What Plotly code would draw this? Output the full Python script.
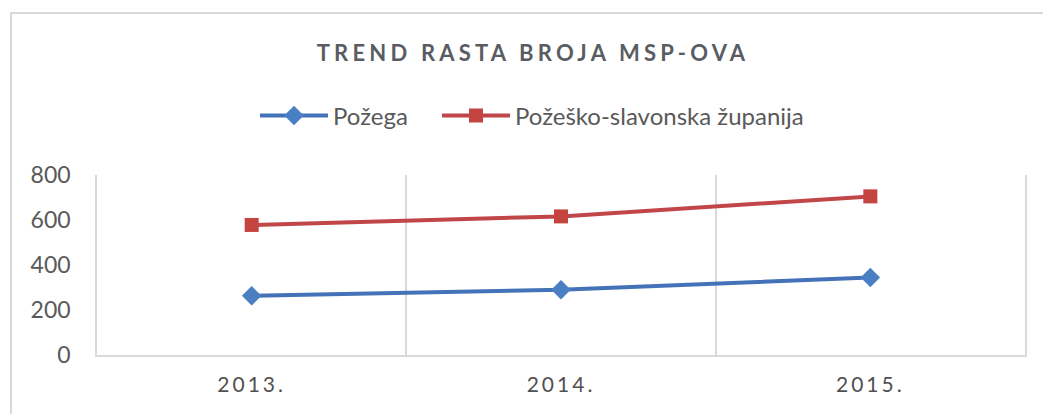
import plotly.graph_objects as go

years = ["2013.", "2014.", "2015."]
pozega = [263, 290, 345]
zupanija = [578, 616, 705]
series_names = ["Požega", "Požeško-slavonska županija"]
title_text = "TREND RASTA BROJA MSP-OVA"

W, H = 1043, 414
ML, MR, MT, MB = 97, 18, 175, 59
PW, PH = W - ML - MR, H - MT - MB

def px_x(px):
    return (px - ML) / PW

def px_y(py):
    return (H - MB - py) / PH

TXT = "#595959"
FONT = "Lato"

fig = go.Figure()
fig.add_trace(go.Scatter(
    x=years, y=pozega, name=series_names[0], mode="lines+markers",
    line=dict(color="#4472B8", width=4),
    marker=dict(symbol="diamond", size=15, color="#4A7FC4"),
    legend="legend",
))
fig.add_trace(go.Scatter(
    x=years, y=zupanija, name=series_names[1], mode="lines+markers",
    line=dict(color="#C0464A", width=4),
    marker=dict(symbol="square", size=14, color="#C4443F"),
    legend="legend2",
))

leg_common = dict(
    orientation="h", xanchor="left", y=px_y(116), yanchor="middle",
    font=dict(family=FONT, size=24, color=TXT),
    bgcolor="rgba(0,0,0,0)", itemwidth=68,
)

fig.update_layout(
    width=W, height=H,
    margin=dict(l=ML, r=MR, t=MT, b=MB, pad=0, autoexpand=False),
    paper_bgcolor="white", plot_bgcolor="white",
    font=dict(family=FONT, color=TXT),
    title=dict(
        text="<b>" + title_text + "</b>",
        font=dict(family=FONT, size=22, color="#595D63"),
        x=533 / W, xanchor="center", xref="container",
        y=1 - 53 / H, yanchor="middle", yref="container",
        automargin=False,
    ),
    legend=dict(x=px_x(255), **leg_common),
    legend2=dict(x=px_x(437), **leg_common),
    showlegend=True,
)

fig.update_xaxes(
    type="category", range=[-0.5, 2.5], tickson="boundaries",
    showgrid=True, gridcolor="#D9D9D9", gridwidth=1.5,
    showline=True, linecolor="#D9D9D9", linewidth=1.5,
    ticks="", ticklabelstandoff=10, automargin=False,
    tickfont=dict(family=FONT, size=21, color="#505050"),
    zeroline=False,
)
fig.update_yaxes(
    range=[0, 800], dtick=200, showgrid=False,
    showline=True, linecolor="#D9D9D9", linewidth=1.5, mirror=True,
    ticks="", ticklabelstandoff=20, automargin=False,
    tickfont=dict(family=FONT, size=23, color=TXT),
    zeroline=False,
)

# outer chart frame
fig.add_shape(
    type="rect", xref="paper", yref="paper",
    x0=px_x(11), x1=px_x(1060), y0=px_y(430), y1=px_y(13),
    line=dict(color="#D9D9D9", width=2), fillcolor="rgba(0,0,0,0)", layer="below",
)

post = """
document.body.style.margin='0';
document.body.style.overflow='hidden';
document.querySelectorAll('.gtitle').forEach(function(e){e.style.letterSpacing='4.2px';});
document.querySelectorAll('.xtick text').forEach(function(e){e.style.letterSpacing='3px';});
"""

fig.write_html("out.html", post_script=post, config={"displayModeBar": False})
